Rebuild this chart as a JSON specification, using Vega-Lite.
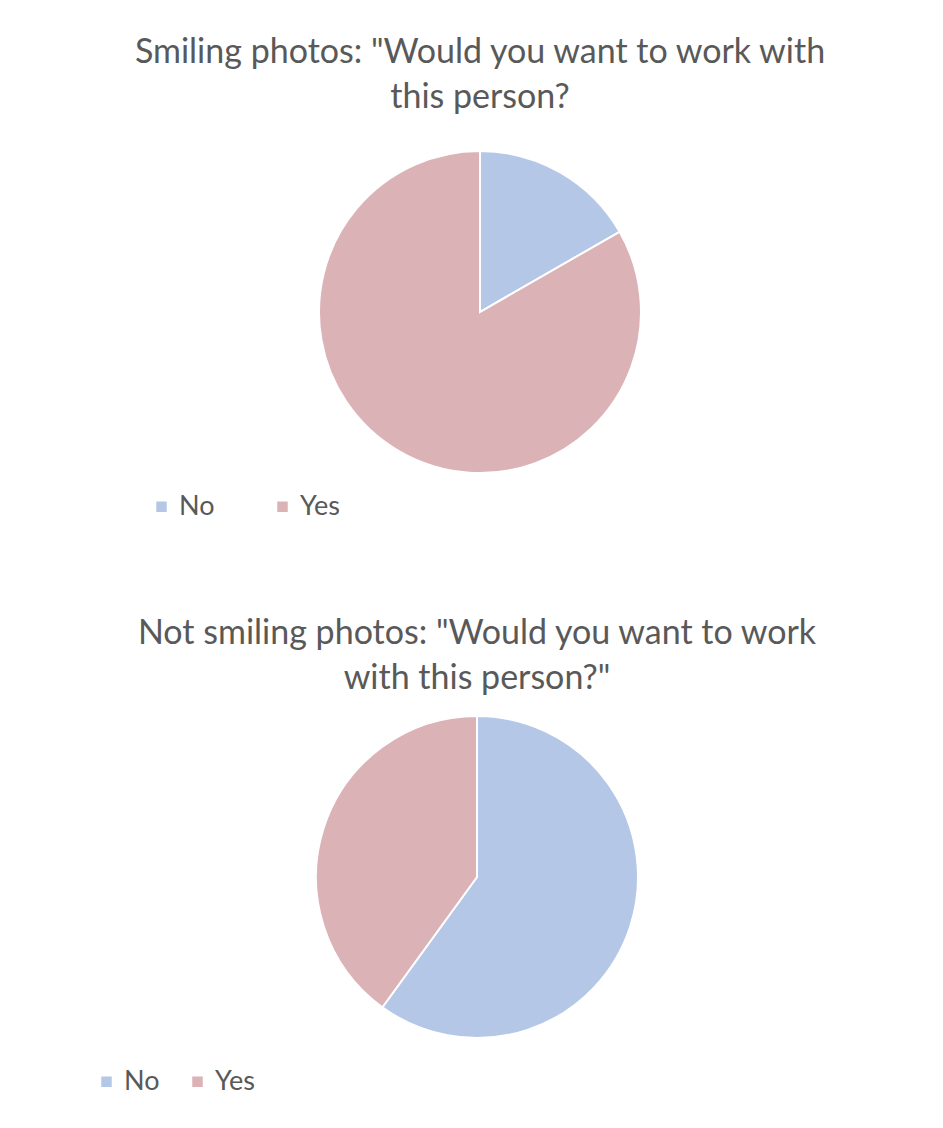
{
  "$schema": "https://vega.github.io/schema/vega-lite/v6.json",
  "background": "white",
  "padding": {"left": 0, "top": 36, "right": 0, "bottom": 0},
  "spacing": 97,
  "config": {
    "view": {"stroke": null},
    "font": "Lato",
    "title": {"font": "Lato", "fontSize": 34, "fontWeight": "normal", "color": "#595959", "lineHeight": 45, "anchor": "middle", "offset": 32},
    "legend": {"labelFont": "Lato", "labelFontSize": 27, "labelColor": "#595959", "symbolType": "square", "symbolSize": 110, "symbolStrokeWidth": 0, "direction": "horizontal", "title": null, "labelOffset": 4}
  },
  "datasets": {
    "smiling": [
      {"answer": "No", "value": 16.7, "order": 1},
      {"answer": "Yes", "value": 83.3, "order": 2}
    ],
    "notsmiling": [
      {"answer": "No", "value": 60, "order": 1},
      {"answer": "Yes", "value": 40, "order": 2}
    ]
  },
  "vconcat": [
    {
      "title": {"text": ["Smiling photos: \"Would you want to work with", "this person?"]},
      "width": 960,
      "height": 322,
      "data": {"name": "smiling"},
      "mark": {"type": "arc", "outerRadius": 161, "stroke": "white", "strokeWidth": 2},
      "encoding": {
        "theta": {"field": "value", "type": "quantitative", "stack": true},
        "order": {"field": "order", "type": "quantitative"},
        "color": {
          "field": "answer", "type": "nominal",
          "scale": {"domain": ["No", "Yes"], "range": ["#B4C7E7", "#DBB2B6"]},
          "legend": {"orient": "none", "legendX": 148, "legendY": 342, "columnPadding": 54}
        }
      }
    },
    {
      "title": {"text": ["Not smiling photos: \"Would you want to work", "with this person?\""], "offset": 16},
      "width": 954,
      "height": 322,
      "data": {"name": "notsmiling"},
      "mark": {"type": "arc", "outerRadius": 161, "stroke": "white", "strokeWidth": 2},
      "encoding": {
        "theta": {"field": "value", "type": "quantitative", "stack": true},
        "order": {"field": "order", "type": "quantitative"},
        "color": {
          "field": "answer", "type": "nominal",
          "scale": {"domain": ["No", "Yes"], "range": ["#B4C7E7", "#DBB2B6"]},
          "legend": {"orient": "none", "legendX": 93, "legendY": 352, "columnPadding": 24}
        }
      }
    }
  ],
  "resolve": {"legend": {"color": "independent"}}
}
